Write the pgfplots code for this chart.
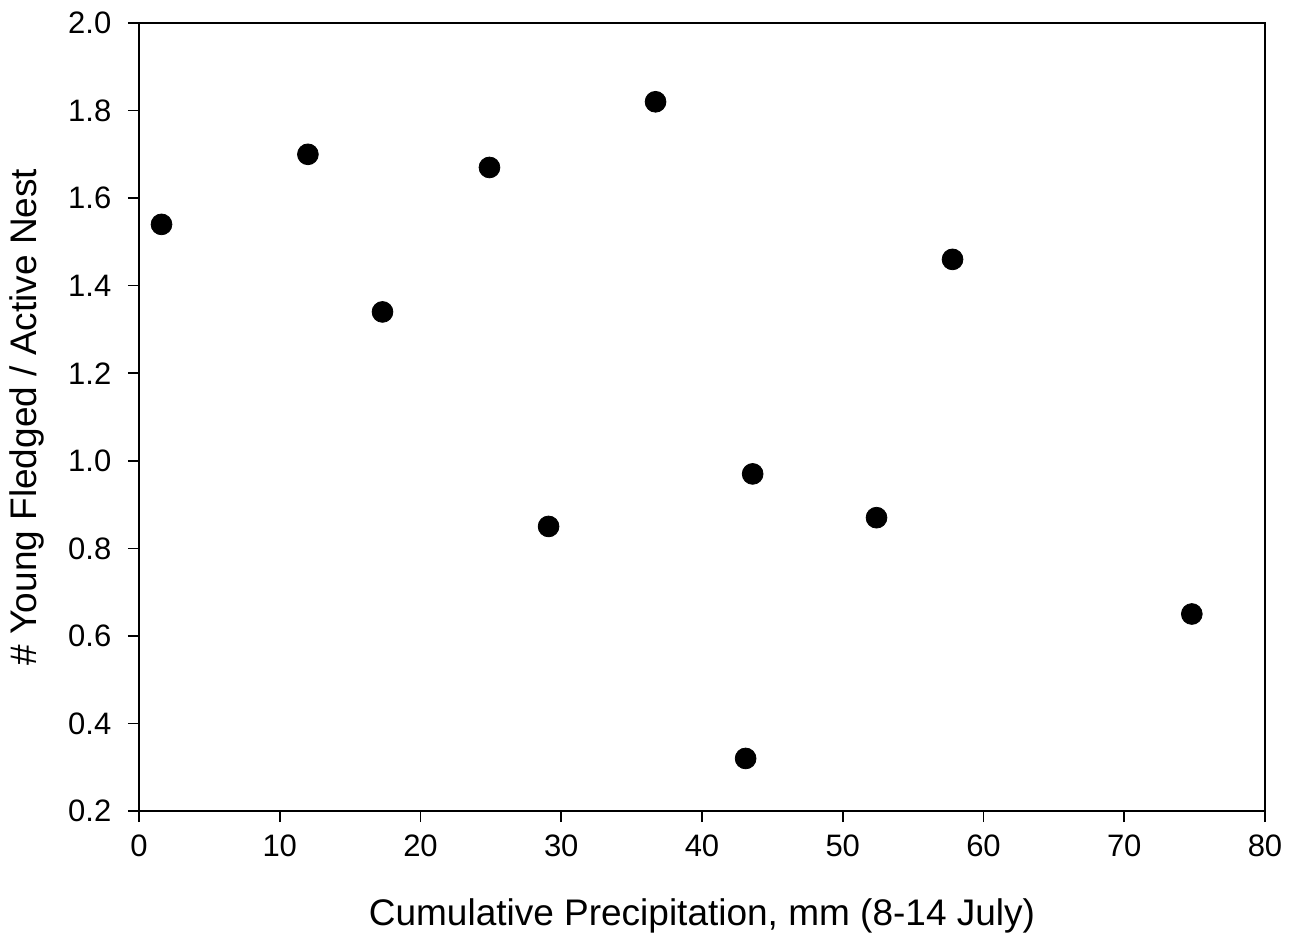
\documentclass[border=0pt]{standalone}
\usepackage{fontspec}
\setmainfont{Liberation Sans}
\usepackage{pgfplots}
\pgfplotsset{compat=1.18}
\begin{document}
\begin{tikzpicture}
\begin{axis}[
  scale only axis,
  anchor=south west, at={(0,0)},
  width=563pt, height=394pt,
  xmin=0, xmax=80, ymin=0.2, ymax=2.0,
  xtick={0,10,...,80},
  ytick={0.2,0.4,...,2.0},
  /pgf/number format/assume math mode=true,
  tick label style={font=\fontsize{15.5}{18}\selectfont},
  yticklabel style={xshift=-4.8pt, /pgf/number format/.cd,fixed,fixed zerofill,precision=1},
  xticklabel style={yshift=-3pt},
  label style={font=\fontsize{18.5}{22}\selectfont},
  axis x line*=bottom, axis y line*=left,
  axis line style={-, line width=0.8pt},
  tick style={black, line width=0.8pt},
  tick align=outside,
  major tick length=5.5pt,
  xlabel={Cumulative Precipitation, mm (8-14 July)},
  ylabel={\# Young Fledged / Active Nest},
  xlabel style={at={(axis description cs:0.5,-0.1447)}, anchor=base},
  ylabel style={at={(axis description cs:-0.0906,0.5)}, anchor=base},
  clip=false,
]
\draw[line width=0.8pt] (rel axis cs:0,1) -- (rel axis cs:1,1) -- (rel axis cs:1,0);
\addplot[only marks, mark=*, mark size=5.2pt, black] coordinates {
(1.6,1.54) (12.0,1.70) (17.3,1.34) (24.9,1.67) (29.1,0.85) (36.7,1.82)
(43.6,0.97) (43.1,0.32) (52.4,0.87) (57.8,1.46) (74.8,0.65)
};
\end{axis}
\pgfresetboundingbox
\path (-69.5pt,-62pt) rectangle (575pt,405.5pt);
\end{tikzpicture}
\end{document}
